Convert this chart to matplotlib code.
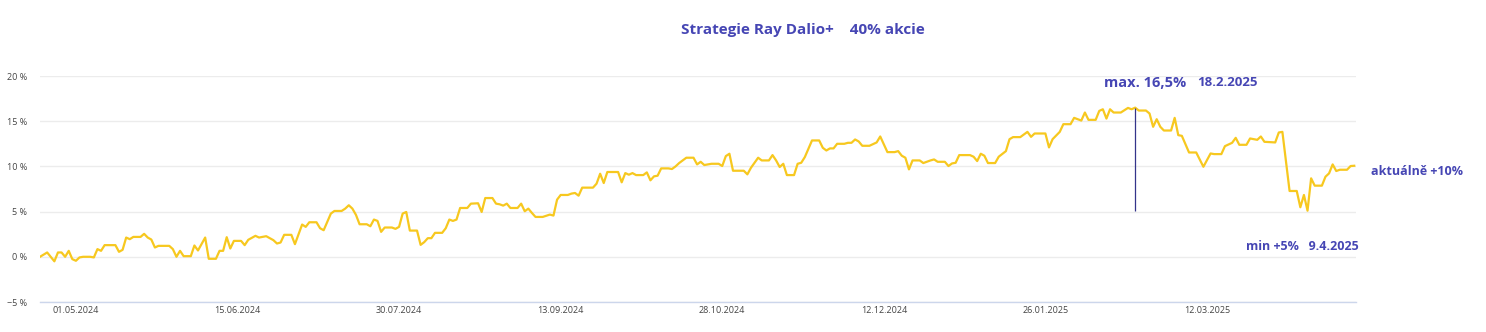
import numpy as np
import matplotlib
matplotlib.use("Agg")
import matplotlib.pyplot as plt
import matplotlib.dates as mdates

# --------- data: cumulative return of the portfolio (%) ----------
dates = [
    "2024-04-21", "2024-04-23", "2024-04-25", "2024-04-26", "2024-04-27", "2024-04-28", "2024-04-29", "2024-04-30",
    "2024-05-01", "2024-05-02", "2024-05-03", "2024-05-05", "2024-05-06", "2024-05-07", "2024-05-08", "2024-05-09",
    "2024-05-12", "2024-05-13", "2024-05-14", "2024-05-15", "2024-05-16", "2024-05-17", "2024-05-19", "2024-05-20",
    "2024-05-21", "2024-05-22", "2024-05-23", "2024-05-24", "2024-05-27", "2024-05-28", "2024-05-29", "2024-05-30",
    "2024-05-31", "2024-06-02", "2024-06-03", "2024-06-04", "2024-06-06", "2024-06-07", "2024-06-09", "2024-06-10",
    "2024-06-11", "2024-06-12", "2024-06-13", "2024-06-14", "2024-06-16", "2024-06-17", "2024-06-18", "2024-06-20",
    "2024-06-21", "2024-06-23", "2024-06-25", "2024-06-26", "2024-06-27", "2024-06-28", "2024-06-30", "2024-07-01",
    "2024-07-03", "2024-07-04", "2024-07-05", "2024-07-07", "2024-07-08", "2024-07-09", "2024-07-11", "2024-07-12",
    "2024-07-14", "2024-07-15", "2024-07-16", "2024-07-17", "2024-07-18", "2024-07-19", "2024-07-21", "2024-07-22",
    "2024-07-23", "2024-07-24", "2024-07-25", "2024-07-26", "2024-07-28", "2024-07-29", "2024-07-30", "2024-07-31",
    "2024-08-01", "2024-08-02", "2024-08-04", "2024-08-05", "2024-08-06", "2024-08-07", "2024-08-08", "2024-08-09",
    "2024-08-11", "2024-08-12", "2024-08-13", "2024-08-14", "2024-08-15", "2024-08-16", "2024-08-18", "2024-08-19",
    "2024-08-21", "2024-08-22", "2024-08-23", "2024-08-25", "2024-08-26", "2024-08-27", "2024-08-28", "2024-08-29",
    "2024-08-30", "2024-09-01", "2024-09-02", "2024-09-03", "2024-09-04", "2024-09-05", "2024-09-06", "2024-09-08",
    "2024-09-10", "2024-09-11", "2024-09-12", "2024-09-13", "2024-09-15", "2024-09-16", "2024-09-17", "2024-09-18",
    "2024-09-19", "2024-09-22", "2024-09-23", "2024-09-24", "2024-09-25", "2024-09-26", "2024-09-29", "2024-09-30",
    "2024-10-01", "2024-10-02", "2024-10-03", "2024-10-04", "2024-10-06", "2024-10-07", "2024-10-08", "2024-10-09",
    "2024-10-10", "2024-10-11", "2024-10-13", "2024-10-14", "2024-10-15", "2024-10-16", "2024-10-18", "2024-10-20",
    "2024-10-21", "2024-10-22", "2024-10-23", "2024-10-25", "2024-10-27", "2024-10-28", "2024-10-29", "2024-10-30",
    "2024-10-31", "2024-11-03", "2024-11-04", "2024-11-05", "2024-11-07", "2024-11-08", "2024-11-10", "2024-11-11",
    "2024-11-12", "2024-11-13", "2024-11-14", "2024-11-15", "2024-11-17", "2024-11-18", "2024-11-19", "2024-11-20",
    "2024-11-22", "2024-11-24", "2024-11-25", "2024-11-26", "2024-11-27", "2024-11-28", "2024-11-29", "2024-12-01",
    "2024-12-02", "2024-12-03", "2024-12-04", "2024-12-05", "2024-12-06", "2024-12-08", "2024-12-10", "2024-12-11",
    "2024-12-13", "2024-12-15", "2024-12-16", "2024-12-17", "2024-12-18", "2024-12-19", "2024-12-20", "2024-12-22",
    "2024-12-23", "2024-12-25", "2024-12-26", "2024-12-27", "2024-12-29", "2024-12-30", "2024-12-31", "2025-01-01",
    "2025-01-02", "2025-01-05", "2025-01-06", "2025-01-07", "2025-01-08", "2025-01-09", "2025-01-10", "2025-01-12",
    "2025-01-13", "2025-01-15", "2025-01-16", "2025-01-17", "2025-01-19", "2025-01-21", "2025-01-22", "2025-01-23",
    "2025-01-26", "2025-01-27", "2025-01-28", "2025-01-30", "2025-01-31", "2025-02-02", "2025-02-03", "2025-02-04",
    "2025-02-05", "2025-02-06", "2025-02-07", "2025-02-09", "2025-02-10", "2025-02-11", "2025-02-12", "2025-02-13",
    "2025-02-14", "2025-02-16", "2025-02-18", "2025-02-19", "2025-02-20", "2025-02-21", "2025-02-23", "2025-02-24",
    "2025-02-25", "2025-02-26", "2025-02-27", "2025-02-28", "2025-03-02", "2025-03-03", "2025-03-04", "2025-03-05",
    "2025-03-07", "2025-03-09", "2025-03-11", "2025-03-13", "2025-03-14", "2025-03-16", "2025-03-17", "2025-03-19",
    "2025-03-20", "2025-03-21", "2025-03-23", "2025-03-24", "2025-03-26", "2025-03-27", "2025-03-28", "2025-03-31",
    "2025-04-01", "2025-04-02", "2025-04-04", "2025-04-06", "2025-04-07", "2025-04-08", "2025-04-09", "2025-04-10",
    "2025-04-11", "2025-04-13", "2025-04-14", "2025-04-15", "2025-04-16", "2025-04-17", "2025-04-18", "2025-04-20",
    "2025-04-21", "2025-04-22",
]
returns = [
    0.0, 0.48, -0.5, 0.48, 0.48, 0.0, 0.66, -0.26,
    -0.44, -0.07, 0.0, 0.0, -0.07, 0.85, 0.66, 1.29,
    1.29, 0.55, 0.77, 2.13, 1.95, 2.2, 2.2, 2.54,
    2.13, 1.91, 1.03, 1.21, 1.21, 0.85, 0.0, 0.66,
    0.07, 0.07, 1.25, 0.7, 2.13, -0.22, -0.22, 0.66,
    0.66, 2.17, 0.92, 1.76, 1.76, 1.29, 1.88, 2.32,
    2.13, 2.28, 1.84, 1.47, 1.58, 2.43, 2.43, 1.4,
    3.57, 3.31, 3.82, 3.82, 3.16, 2.94, 4.78, 5.07,
    5.07, 5.33, 5.7, 5.33, 4.63, 3.6, 3.6, 3.38,
    4.12, 3.97, 2.76, 3.24, 3.24, 3.09, 3.31, 4.78,
    4.96, 2.9, 2.9, 1.32, 1.62, 2.06, 2.06, 2.65,
    2.65, 3.16, 4.12, 3.97, 4.12, 5.4, 5.4, 5.88,
    5.92, 4.96, 6.5, 6.5, 5.88, 5.81, 5.66, 5.88,
    5.4, 5.4, 5.88, 5.04, 5.33, 4.85, 4.41, 4.41,
    4.67, 4.56, 6.32, 6.84, 6.84, 6.99, 7.06, 6.76,
    7.65, 7.65, 8.09, 9.19, 8.16, 9.38, 9.38, 8.24,
    9.26, 9.08, 9.26, 9.04, 9.04, 9.34, 8.46, 8.9,
    8.97, 9.78, 9.78, 9.71, 10.0, 10.37, 10.96, 10.96,
    10.22, 10.51, 10.15, 10.29, 10.29, 10.04, 11.14, 11.4,
    9.52, 9.52, 9.12, 9.85, 10.96, 10.66, 10.66, 11.25,
    10.66, 9.93, 10.29, 9.04, 9.04, 10.29, 10.4, 11.03,
    12.87, 12.87, 12.06, 11.76, 11.99, 11.99, 12.5, 12.5,
    12.61, 12.61, 12.98, 12.76, 12.28, 12.28, 12.65, 13.31,
    11.58, 11.58, 11.69, 11.18, 10.96, 9.67, 10.66, 10.66,
    10.37, 10.66, 10.77, 10.51, 10.51, 10.04, 10.33, 10.4,
    11.25, 11.25, 11.07, 10.59, 11.4, 11.18, 10.37, 10.37,
    11.07, 11.69, 13.01, 13.24, 13.24, 13.82, 13.27, 13.64,
    13.64, 12.1, 13.01, 13.82, 14.67, 14.67, 15.37, 15.22,
    15.07, 15.96, 15.15, 15.15, 16.14, 16.32, 15.29, 16.32,
    15.96, 15.96, 16.47, 16.32, 16.5, 16.18, 16.18, 15.85,
    14.38, 15.22, 14.38, 13.97, 13.97, 15.37, 13.46, 13.38,
    11.54, 11.54, 9.96, 11.43, 11.36, 11.36, 12.24, 12.61,
    13.16, 12.39, 12.39, 13.09, 12.94, 13.31, 12.72, 12.65,
    13.75, 13.82, 7.28, 7.28, 5.48, 6.84, 5.1, 8.68,
    7.87, 7.87, 8.86, 9.23, 10.22, 9.49, 9.63, 9.63,
    10.04, 10.07,
]

y_ticks = [-5, 0, 5, 10, 15, 20]
x_tick_dates = ["2024-05-01", "2024-06-15", "2024-07-30", "2024-09-13",
                "2024-10-28", "2024-12-12", "2025-01-26", "2025-03-12"]

TITLE = "Strategie Ray Dalio+    40% akcie"
MAX_LABEL = "max. 16,5%"
MAX_DATE_LABEL = "18.2.2025"
MIN_LABEL = "min +5%   9.4.2025"
LAST_LABEL = "aktuálně +10%"

LINE_COLOR = "#f7c81f"
TEXT_BLUE = "#4646b4"
GRID_COLOR = "#ececec"

plt.rcParams["font.family"] = ["Open Sans", "DejaVu Sans"]

x = np.array(dates, dtype="datetime64[D]")
y = np.array(returns)

fig = plt.figure(figsize=(14.86, 3.32), dpi=100)
ax = fig.add_axes([40 / 1486, 30 / 332, 1316 / 1486, 226 / 332])

ax.plot(x, y, color=LINE_COLOR, lw=1.6, solid_joinstyle="round", zorder=3)

# peak and the drawdown low that followed it, joined by a vertical marker
i_max = int(np.argmax(y))
i_min = i_max + int(np.argmin(y[i_max:]))
ax.vlines(x[i_max], y[i_min], y[i_max], color="#34348a", lw=0.9, zorder=4)

ax.set_ylim(-5, 20)
ax.set_xlim(np.datetime64("2024-04-21"), np.datetime64("2025-04-22T12"))
ax.set_yticks(y_ticks)
ax.set_yticklabels([f"{v} %".replace("-", "\u2212") for v in y_ticks])
ax.set_xticks(np.array(x_tick_dates, dtype="datetime64[D]"))
ax.xaxis.set_major_formatter(mdates.DateFormatter("%d.%m.%Y"))

ax.grid(axis="y", color=GRID_COLOR, lw=1)
ax.set_axisbelow(True)
for side in ["top", "right", "left"]:
    ax.spines[side].set_visible(False)
ax.spines["bottom"].set_color("#ccd6eb")
ax.spines["bottom"].set_linewidth(1)
ax.tick_params(axis="both", length=0, labelsize=6.5, colors="#444444")
ax.tick_params(axis="y", pad=9)
ax.tick_params(axis="x", pad=3)

# annotations
ax.annotate(MAX_LABEL, xy=(x[i_max], y[i_max]), xytext=(-31, 25), textcoords="offset pixels",
            ha="left", va="center", fontsize=10.5, fontweight="bold", color=TEXT_BLUE)
ax.annotate(MAX_DATE_LABEL, xy=(x[i_max], y[i_max]), xytext=(62, 25), textcoords="offset pixels",
            ha="left", va="center", fontsize=9.5, fontweight="bold", color=TEXT_BLUE)
ax.annotate(MIN_LABEL, xy=(x[i_min], y[i_min]), xytext=(51, -36), textcoords="offset pixels",
            ha="right", va="center", fontsize=9, fontweight="bold", color=TEXT_BLUE,
            annotation_clip=False)
ax.annotate(LAST_LABEL, xy=(x[-1], y[-1]), xytext=(17, -6), textcoords="offset pixels",
            ha="left", va="center", fontsize=9, fontweight="bold", color=TEXT_BLUE,
            annotation_clip=False)

fig.text(803 / 1486, 1 - 30 / 332, TITLE, ha="center", va="center",
         fontsize=11, fontweight="bold", color=TEXT_BLUE)

fig.savefig("out.png", dpi=100)
